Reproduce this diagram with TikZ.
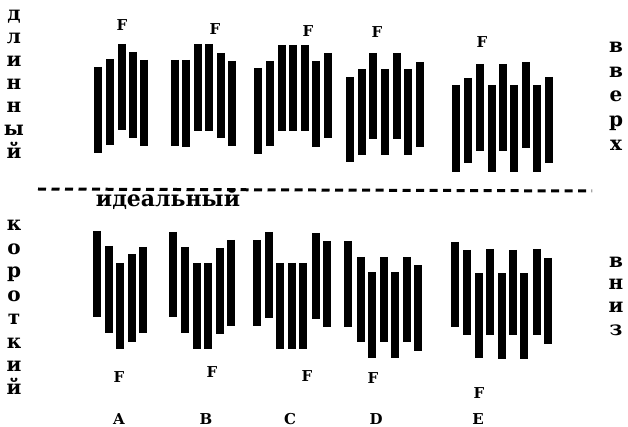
\documentclass[tikz,border=0pt]{standalone}
\usepackage{fontspec}
\setmainfont{DejaVu Serif}
\usetikzlibrary{positioning}

\begin{document}
\begin{tikzpicture}[
    x=1pt, y=-1pt,
    bar/.style={draw, line width=7.5pt},
    word/.style={anchor=base, inner sep=0pt, font=\bfseries\fontsize{20}{20}\selectfont},
    tag/.style={anchor=base, inner sep=0pt, font=\bfseries\fontsize{15}{15}\selectfont},
    ideal/.style={draw, line width=3pt, dash pattern=on 8pt off 5.5pt}
]
\useasboundingbox (0,0) rectangle (628,427);

% Bars above the line
\foreach \x/\t/\b in {98/67/153, 110/59/145, 122/44/130, 133/52/138, 144/60/146,
    175/60/146, 186/60/147, 198/44/131, 209/44/131, 221/53/138, 232/61/146,
    258/68/154, 270/61/146, 282/45/131, 293/45/131, 305/45/131, 316/61/147, 328/53/138,
    350/77/162, 362/69/155, 373/53/139, 385/69/155, 397/53/139, 408/69/155, 420/62/147,
    456/85/172, 468/78/163, 480/64/151, 492/85/172, 503/64/151, 514/85/172, 526/62/148, 537/85/172, 549/77/163}
    \path [bar] (\x,\t) -- (\x,\b);

% Bars below the line
\foreach \x/\t/\b in {97/231/317, 109/246/333, 120/263/349, 132/254/342, 143/247/333,
    173/232/317, 185/247/333, 197/263/349, 208/263/349, 220/248/334, 231/240/326,
    257/240/326, 269/232/318, 280/263/349, 292/263/349, 303/263/349, 316/233/319, 327/241/327,
    348/241/327, 361/257/342, 372/272/358, 384/257/342, 395/272/358, 407/257/342, 418/265/351,
    455/242/327, 467/250/335, 479/273/358, 490/249/335, 502/273/359, 513/250/335, 524/273/359, 537/249/335, 548/258/344}
    \path [bar] (\x,\t) -- (\x,\b);

% Ideal line
\coordinate (lineL) at (38,189);
\coordinate (lineR) at (592,191);
\path [ideal] (lineL) -- (lineR);
\node [word, font=\bfseries\fontsize{22}{22}\selectfont] (ideal) at (168,207) {идеальный};

% Side words
\foreach \ch [count=\i] in {д,л,и,н,н,ы,й}
    \node [word] (long\i) at (14,{21+23*(\i-1)}) {\ch};
\foreach \ch [count=\i] in {к,о,р,о,т,к,и,й}
    \node [word] (short\i) at (14,{231+23.4*(\i-1)}) {\ch};
\foreach \ch [count=\i] in {в,в,е,р,х}
    \node [word] (up\i) at (616,{53+24.5*(\i-1)}) {\ch};
\foreach \ch [count=\i] in {в,н,и,з}
    \node [word] (down\i) at (616,{267+22.7*(\i-1)}) {\ch};

% F marks
\foreach \x/\y [count=\i] in {122/31, 215/35, 308/37, 377/38, 482/48}
    \node [tag] (ftop\i) at (\x,\y) {F};
\foreach \x/\y [count=\i] in {119/382, 212/377, 307/381, 373/383, 479/398}
    \node [tag] (fbot\i) at (\x,\y) {F};

% Group letters
\foreach \x/\name in {119/A, 206/B, 290/C, 376/D, 478/E}
    \node [tag] (grp\name) at (\x,424) {\name};
\end{tikzpicture}
\end{document}
